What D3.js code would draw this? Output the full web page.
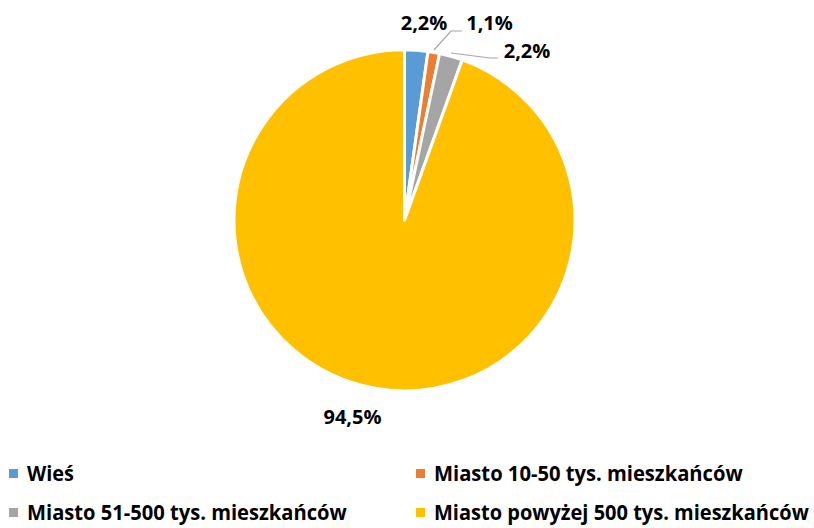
<!DOCTYPE html>
<html>
<head>
<meta charset="utf-8">
<script src="https://cdn.jsdelivr.net/npm/d3@7"></script>
<style>
  html, body { margin: 0; padding: 0; background: #fff; }
  svg text { font-family: "Open Sans", "Liberation Sans", sans-serif; font-weight: 700; fill: #000; }
</style>
</head>
<body>
<svg id="chart" width="814" height="528"></svg>
<script>
// Share of respondents by place of residence
const categories = ["Wieś", "Miasto 10-50 tys. mieszkańców", "Miasto 51-500 tys. mieszkańców", "Miasto powyżej 500 tys. mieszkańców"];
const values = [2.2, 1.1, 2.2, 94.5];
const valueLabels = ["2,2%", "1,1%", "2,2%", "94,5%"];
const colors = ["#5B9BD5", "#ED7D31", "#A5A5A5", "#FFC000"];

const svg = d3.select("#chart");
const cx = 404.5, cy = 220.3, r = 170.5;

const pie = d3.pie().sort(null).value(d => d.value);
const arc = d3.arc().innerRadius(0).outerRadius(r);
const data = categories.map((c, i) => ({ name: c, value: values[i], label: valueLabels[i], color: colors[i] }));
const arcs = pie(data);

const g = svg.append("g").attr("transform", `translate(${cx},${cy})`);
g.selectAll("path.slice")
  .data(arcs)
  .join("path")
  .attr("class", "slice")
  .attr("d", arc)
  .attr("fill", d => d.data.color)
  .attr("stroke", "#fff")
  .attr("stroke-width", 3)
  .attr("stroke-linejoin", "round");

// Text drawn at a fixed size, then squeezed horizontally to a narrow width
function fittedText(parent, str, x, y, width, size, anchor) {
  const t = parent.append("text")
    .attr("font-size", size)
    .attr("text-anchor", anchor)
    .text(str);
  const natural = t.node().getComputedTextLength();
  const sx = Math.min(1, width / natural);
  t.attr("transform", `translate(${x},${y}) scale(${sx},1)`);
  return t;
}

// Data label placement and leader lines for the thin slices
const labelPos = [
  { x: 424, y: 30, w: 47, leader: null },
  { x: 489.5, y: 30, w: 47, leader: [[434, 50], [451, 31], [462, 31]] },
  { x: 527, y: 58, w: 47, leader: [[451, 53], [490, 58], [498, 58]] },
  { x: 352.5, y: 424, w: 59, leader: null }
];

const line = d3.line();
arcs.forEach((a, i) => {
  const p = labelPos[i];
  if (p.leader) {
    svg.append("path")
      .attr("d", line(p.leader))
      .attr("fill", "none")
      .attr("stroke", "#A6A6A6")
      .attr("stroke-width", 1.2);
  }
  fittedText(svg, a.data.label, p.x, p.y, p.w, 20, "middle");
});

// Legend: two columns, two rows
const legendPos = [
  { x: 9, y: 469, w: 47 },
  { x: 416, y: 469, w: 309 },
  { x: 9, y: 508, w: 320 },
  { x: 416, y: 508, w: 375 }
];
const legend = svg.append("g");
data.forEach((d, i) => {
  const p = legendPos[i];
  legend.append("rect")
    .attr("x", p.x).attr("y", p.y)
    .attr("width", 9).attr("height", 9)
    .attr("fill", d.color);
  fittedText(legend, d.name, p.x + 18, p.y + 12, p.w, 21, "start");
});
</script>
</body>
</html>
